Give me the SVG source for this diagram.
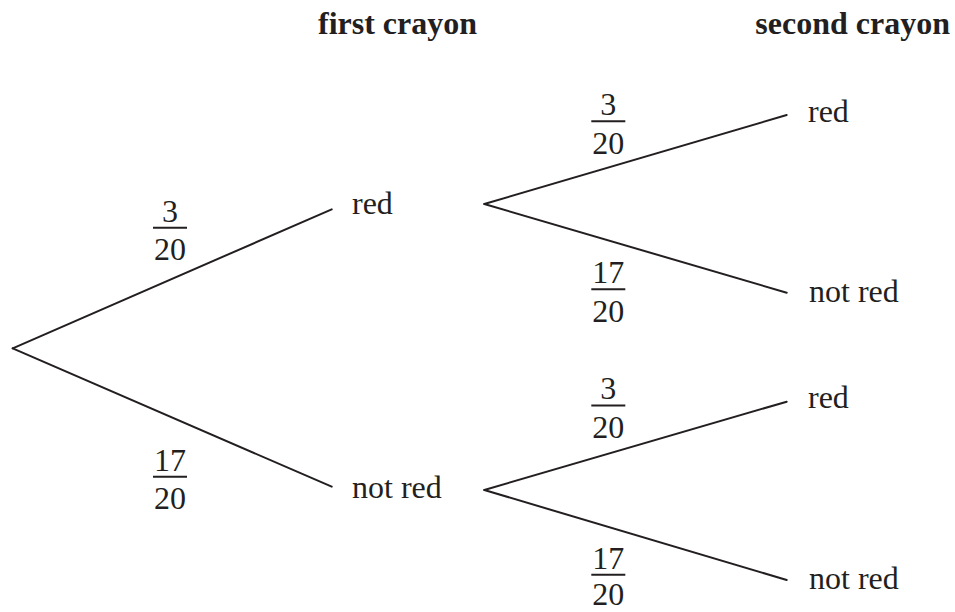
<svg xmlns="http://www.w3.org/2000/svg" width="955" height="612" viewBox="0 0 955 612">
  <style>
    text { font-family: "Liberation Serif", "Times New Roman", serif; font-size: 32px; fill: #231f20; }
    .head { font-weight: bold; }
    .num { text-anchor: middle; }
    .branch { stroke: #231f20; stroke-width: 2; fill: none; stroke-linecap: round; }
    .bar { stroke: #231f20; stroke-width: 2; }
  </style>
  <rect width="955" height="612" fill="#ffffff"/>

  <!-- column headings -->
  <g id="headings">
    <text class="head" x="318" y="34">first crayon</text>
    <text class="head" x="950" y="34" text-anchor="end">second crayon</text>
  </g>

  <!-- tree branches -->
  <g id="connectors">
    <line class="branch" x1="12.7" y1="348.3" x2="331.7" y2="209.3"/>
    <line class="branch" x1="12.7" y1="348.3" x2="331.7" y2="486.7"/>
    <line class="branch" x1="484.3" y1="204" x2="786.7" y2="115"/>
    <line class="branch" x1="484.3" y1="204" x2="786.7" y2="292.7"/>
    <line class="branch" x1="484.3" y1="490" x2="786.7" y2="401.7"/>
    <line class="branch" x1="484.3" y1="490" x2="786.7" y2="580"/>
  </g>

  <!-- outcomes of the first draw -->
  <g id="first-red"><text x="352" y="214">red</text></g>
  <g id="first-not-red"><text x="352" y="498">not red</text></g>

  <!-- outcomes of the second draw -->
  <g id="second-red-red"><text x="808" y="122">red</text></g>
  <g id="second-red-not-red"><text x="809" y="302">not red</text></g>
  <g id="second-not-red-red"><text x="808" y="408">red</text></g>
  <g id="second-not-red-not-red"><text x="809" y="589">not red</text></g>

  <!-- branch probabilities -->
  <g id="p-first-red">
    <text class="num" x="170" y="221.5">3</text>
    <line class="bar" x1="153" y1="227.7" x2="187" y2="227.7"/>
    <text class="num" x="170" y="260">20</text>
  </g>
  <g id="p-first-not-red">
    <text class="num" x="170" y="470.5">17</text>
    <line class="bar" x1="153" y1="476.7" x2="187" y2="476.7"/>
    <text class="num" x="170" y="509">20</text>
  </g>
  <g id="p-red-red">
    <text class="num" x="608.3" y="115">3</text>
    <line class="bar" x1="591.3" y1="121.3" x2="625.3" y2="121.3"/>
    <text class="num" x="608.3" y="154">20</text>
  </g>
  <g id="p-red-not-red">
    <text class="num" x="608.3" y="283">17</text>
    <line class="bar" x1="591.3" y1="289.3" x2="625.3" y2="289.3"/>
    <text class="num" x="608.3" y="322">20</text>
  </g>
  <g id="p-not-red-red">
    <text class="num" x="608.3" y="399">3</text>
    <line class="bar" x1="591.3" y1="405.5" x2="625.3" y2="405.5"/>
    <text class="num" x="608.3" y="438">20</text>
  </g>
  <g id="p-not-red-not-red">
    <text class="num" x="608.3" y="568.5">17</text>
    <line class="bar" x1="591.3" y1="574.7" x2="625.3" y2="574.7"/>
    <text class="num" x="608.3" y="605">20</text>
  </g>
</svg>
